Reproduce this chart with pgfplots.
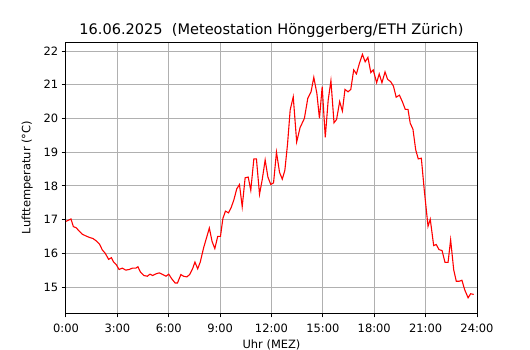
\documentclass[border=0pt]{standalone}
\usepackage{fontspec}
\setmainfont{DejaVu Sans}
\usepackage{pgfplots}
\pgfplotsset{compat=1.18}
\begin{document}
\begin{tikzpicture}
\begin{axis}[
  name=ax,
  width=411bp, height=271bp, scale only axis,
  xmin=0, xmax=24, ymin=14.229, ymax=22.267,
  xtick={0,3,...,24},
  xticklabels={0:00,3:00,6:00,9:00,12:00,15:00,18:00,21:00,24:00},
  ytick={15,...,22},
  /pgf/number format/assume math mode=true,
  tick label style={font=\fontsize{11.5}{13}\selectfont},
  xticklabel style={yshift=-3bp},
  label style={font=\fontsize{11.5}{13}\selectfont},
  xlabel style={yshift=0bp},
  ylabel style={yshift=4bp},
  title style={font=\fontsize{14.6}{17}\selectfont, yshift=-5bp},
  title={16.06.2025\ \ (Meteostation Hönggerberg/ETH Zürich)},
  xlabel={Uhr (MEZ)}, ylabel={Lufttemperatur (°C)},
  grid=major, grid style={color=black!31, line width=1bp},
  axis line style={line width=1bp},
  tick style={black, line width=1bp},
  major tick length=4.4bp,
  tick align=outside, xtick pos=bottom, ytick pos=left,
]
\addplot[red, line width=1.1bp] coordinates {
(0.00,16.95) (0.10,16.97) (0.29,17.02) (0.43,16.79) (0.59,16.76) (0.75,16.67)
(0.94,16.57) (1.14,16.52) (1.37,16.47) (1.57,16.44) (1.76,16.37) (1.96,16.27)
(2.12,16.10) (2.29,16.00) (2.49,15.82) (2.65,15.87) (2.78,15.74) (2.94,15.66)
(3.10,15.52) (3.29,15.56) (3.49,15.50) (3.69,15.52) (3.88,15.56) (4.08,15.56)
(4.20,15.60) (4.35,15.44) (4.55,15.34) (4.75,15.32) (4.90,15.38) (5.06,15.34)
(5.25,15.39) (5.45,15.42) (5.65,15.37) (5.84,15.32) (6.00,15.38) (6.18,15.24)
(6.37,15.12) (6.51,15.12) (6.71,15.37) (6.86,15.32) (7.06,15.30) (7.22,15.37)
(7.39,15.54) (7.53,15.74) (7.69,15.54) (7.84,15.74) (8.04,16.17) (8.24,16.52)
(8.37,16.75) (8.53,16.35) (8.69,16.14) (8.86,16.50) (9.02,16.50) (9.16,17.03)
(9.31,17.25) (9.49,17.20) (9.64,17.35) (9.80,17.58) (9.97,17.91) (10.13,18.04)
(10.29,17.38) (10.46,18.24) (10.64,18.26) (10.79,17.87) (10.97,18.80) (11.12,18.80)
(11.30,17.75) (11.46,18.19) (11.63,18.77) (11.79,18.26) (11.96,18.04) (12.12,18.09)
(12.29,19.00) (12.47,18.40) (12.63,18.20) (12.78,18.46) (12.94,19.26) (13.09,20.25)
(13.27,20.64) (13.47,19.30) (13.67,19.73) (13.92,20.00) (14.12,20.60) (14.31,20.79)
(14.47,21.22) (14.65,20.74) (14.80,20.00) (14.96,20.94) (15.14,19.44) (15.31,20.54)
(15.47,21.12) (15.65,19.87) (15.80,19.97) (15.98,20.50) (16.14,20.22) (16.29,20.86)
(16.47,20.79) (16.63,20.86) (16.80,21.44) (16.96,21.32) (17.12,21.61) (17.31,21.90)
(17.47,21.68) (17.63,21.81) (17.80,21.36) (17.94,21.44) (18.14,21.06) (18.29,21.32)
(18.45,21.06) (18.63,21.38) (18.78,21.16) (18.96,21.09) (19.12,20.96) (19.28,20.63)
(19.47,20.69) (19.64,20.50) (19.81,20.27) (19.97,20.27) (20.10,19.86) (20.26,19.68)
(20.42,19.07) (20.57,18.80) (20.75,18.82) (20.92,17.88) (21.14,16.80) (21.27,17.01)
(21.47,16.23) (21.62,16.26) (21.78,16.11) (21.96,16.08) (22.13,15.73) (22.31,15.73)
(22.46,16.40) (22.64,15.51) (22.79,15.17) (22.95,15.17) (23.12,15.20) (23.28,14.92)
(23.48,14.68) (23.63,14.80) (23.81,14.78)
};
\end{axis}
\pgfresetboundingbox
\useasboundingbox (ax.south west) ++(-66bp,-37bp) rectangle ++(530bp,350bp);
\end{tikzpicture}
\end{document}
